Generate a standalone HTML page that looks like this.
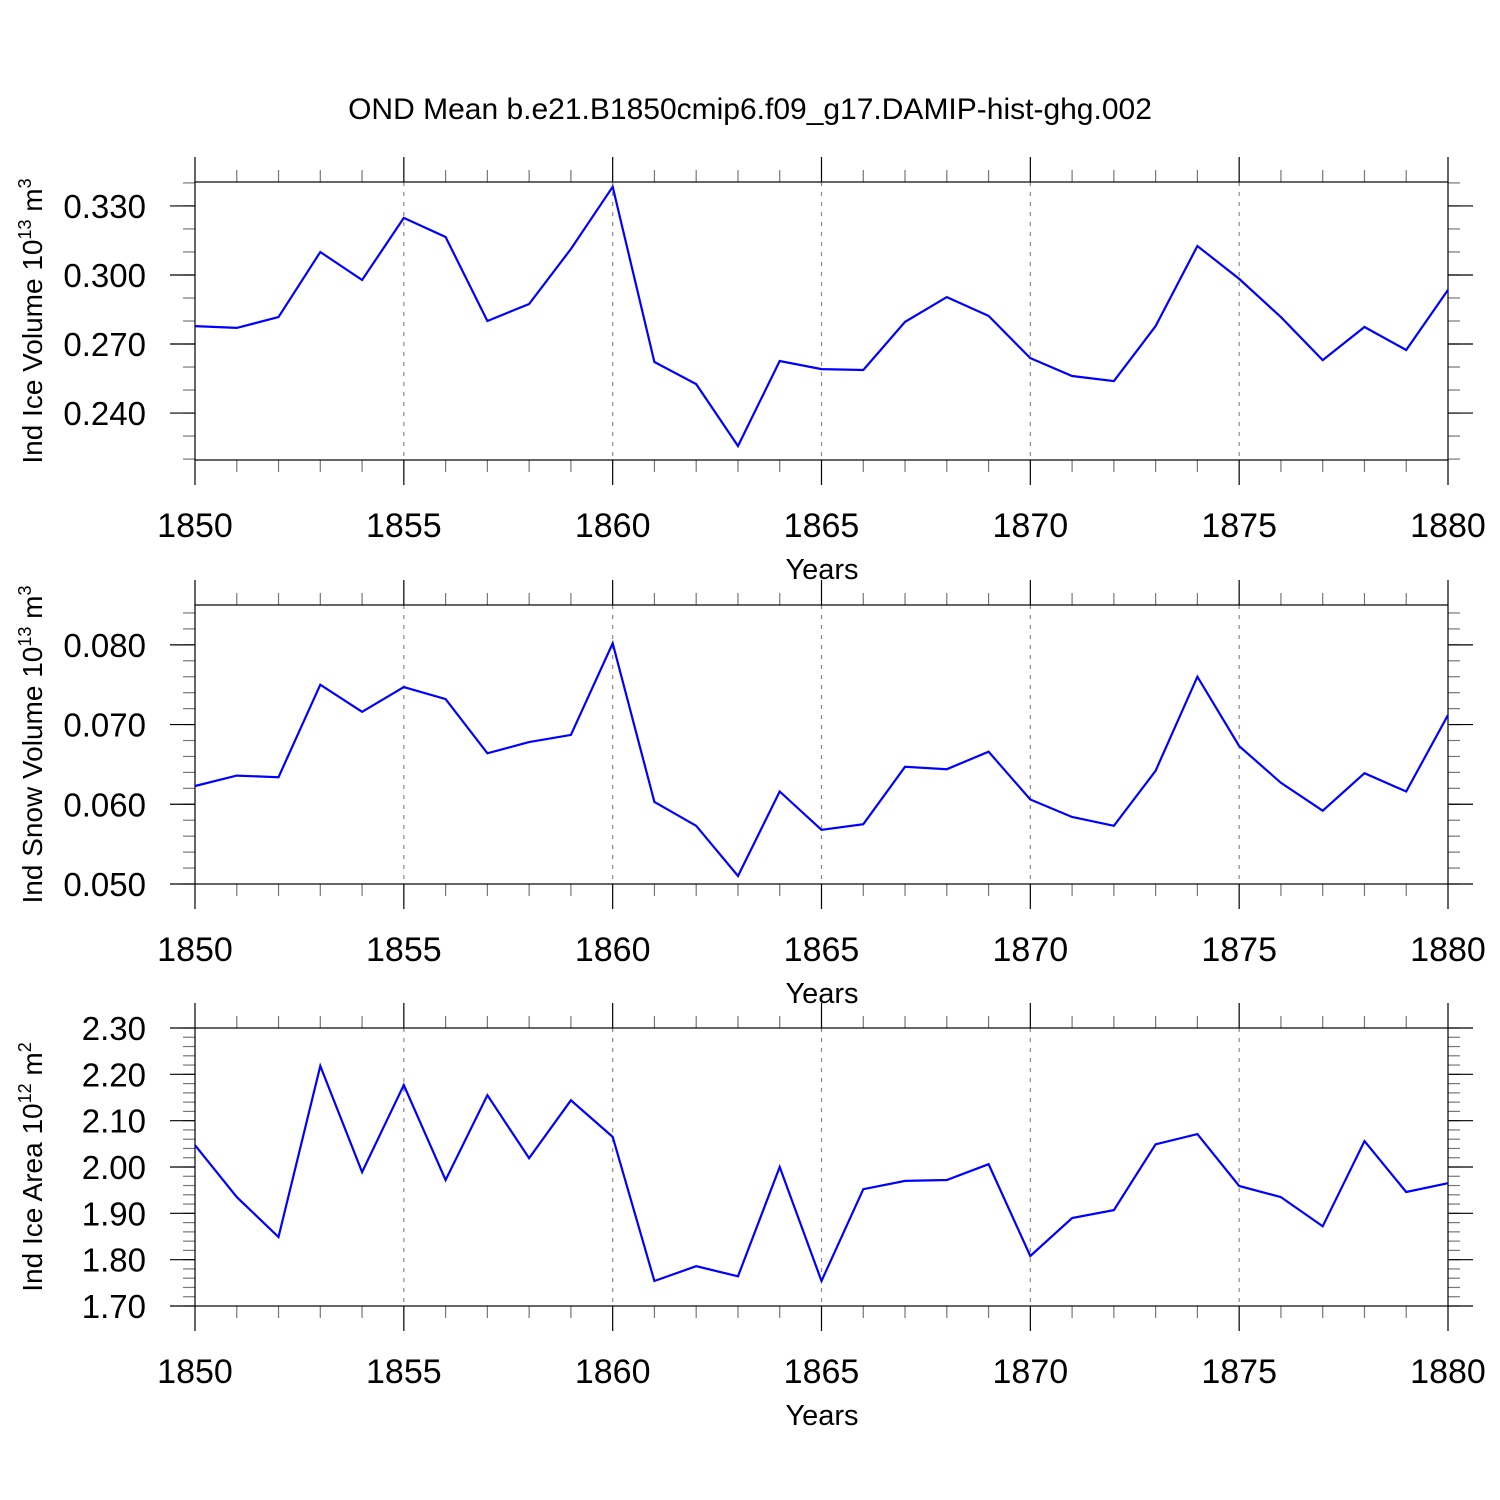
<!DOCTYPE html>
<html><head><meta charset="utf-8"><style>
html,body{margin:0;padding:0;background:#fff;}
svg{display:block;font-family:"Liberation Sans",sans-serif;}
</style></head><body>
<svg id="chart" width="1500" height="1500" viewBox="0 0 1500 1500" xmlns="http://www.w3.org/2000/svg">
<rect width="1500" height="1500" fill="#fff"/>
<text x="750" y="119" font-size="30" text-anchor="middle">OND Mean b.e21.B1850cmip6.f09_g17.DAMIP-hist-ghg.002</text>
</svg>
<script>
const years = [1850,1851,1852,1853,1854,1855,1856,1857,1858,1859,1860,1861,1862,1863,1864,1865,1866,1867,1868,1869,1870,1871,1872,1873,1874,1875,1876,1877,1878,1879,1880];
const iceVolume = [0.2778,0.2770,0.2817,0.3100,0.2978,0.3248,0.3165,0.2800,0.2874,0.3113,0.3383,0.2622,0.2526,0.2257,0.2626,0.2591,0.2587,0.2796,0.2904,0.2822,0.2639,0.2561,0.2539,0.2778,0.3126,0.2983,0.2817,0.2630,0.2774,0.2674,0.2935];
const snowVolume = [0.0623,0.0636,0.0634,0.0750,0.0716,0.0747,0.0732,0.0664,0.0678,0.0687,0.0802,0.0603,0.0573,0.0510,0.0616,0.0568,0.0575,0.0647,0.0644,0.0666,0.0606,0.0584,0.0573,0.0642,0.0760,0.0673,0.0627,0.0592,0.0639,0.0616,0.0712];
const iceArea = [2.047,1.935,1.849,2.218,1.989,2.177,1.972,2.155,2.019,2.144,2.065,1.754,1.786,1.764,2.000,1.754,1.952,1.970,1.972,2.006,1.808,1.890,1.907,2.049,2.071,1.959,1.935,1.872,2.056,1.946,1.965];
const xTickLabels = ["1850","1855","1860","1865","1870","1875","1880"];
const iceVolTicks = ["0.240","0.270","0.300","0.330"];
const snowVolTicks = ["0.050","0.060","0.070","0.080"];
const iceAreaTicks = ["1.70","1.80","1.90","2.00","2.10","2.20","2.30"];

const NS="http://www.w3.org/2000/svg";
const svg=document.getElementById('chart');
const X0=195,X1=1448;
function xScale(yr){return X0+(yr-1850)/30*(X1-X0);}
function mk(tag,attrs,parent){const e=document.createElementNS(NS,tag);for(const k in attrs)e.setAttribute(k,attrs[k]);(parent||svg).appendChild(e);return e;}

const panels=[
 {name:'ice-volume',top:182,bot:460,min:0.2196,max:0.3404,ticks:iceVolTicks,minorStep:0.01,data:iceVolume,title:'Ind Ice Volume 10',sup:'13',unit:' m',usup:'3'},
 {name:'snow-volume',top:605,bot:884,min:0.050,max:0.085,ticks:snowVolTicks,minorStep:0.002,data:snowVolume,title:'Ind Snow Volume 10',sup:'13',unit:' m',usup:'3'},
 {name:'ice-area',top:1028,bot:1306,min:1.70,max:2.30,ticks:iceAreaTicks,minorStep:0.02,data:iceArea,title:'Ind Ice Area 10',sup:'12',unit:' m',usup:'2'}
];
panels.forEach(p=>{
 const g=mk('g',{});
 
 
 const ys=v=>p.bot-(v-p.min)/(p.max-p.min)*(p.bot-p.top);
 for(let yr=1855;yr<1880;yr+=5){
  const l=mk('line',{x1:xScale(yr),x2:xScale(yr),y1:p.top,y2:p.bot,stroke:'#888','stroke-width':1.2,'stroke-dasharray':'4,6'},g);
  
  
 }
 for(let yr=1850;yr<=1880;yr++){
  const x=xScale(yr),maj=(yr%5===0),len=maj?25:12;
  const col=maj?'#000':'#777';
  mk('line',{x1:x,x2:x,y1:p.top,y2:p.top-len,stroke:col,'stroke-width':1.2},g);
  mk('line',{x1:x,x2:x,y1:p.bot,y2:p.bot+len,stroke:col,'stroke-width':1.2},g);
 }
 xTickLabels.forEach(t=>{
  const e=mk('text',{x:xScale(+t),y:p.bot+77,'font-size':34,'text-anchor':'middle'},g);e.textContent=t;
  
  
 });
 const xt=mk('text',{x:822,y:p.bot+119,'font-size':29,'text-anchor':'middle'},g);xt.textContent='Years';
 
 
 const start=Math.ceil(p.min/p.minorStep-1e-6);
 for(let i=start;i*p.minorStep<=p.max+1e-9;i++){
  const y=ys(i*p.minorStep);
  mk('line',{x1:X0,x2:X0-12,y1:y,y2:y,stroke:'#777','stroke-width':1.2},g);
  mk('line',{x1:X1,x2:X1+12,y1:y,y2:y,stroke:'#777','stroke-width':1.2},g);
 }
 p.ticks.forEach(t=>{
  const y=ys(+t);
  mk('line',{x1:X0,x2:X0-25,y1:y,y2:y,stroke:'#000','stroke-width':1.2},g);
  mk('line',{x1:X1,x2:X1+25,y1:y,y2:y,stroke:'#000','stroke-width':1.2},g);
  const e=mk('text',{x:146,y:y+12,'font-size':33,'text-anchor':'end'},g);e.textContent=t;
  
  
 });
 const fr=mk('rect',{x:X0,y:p.top,width:X1-X0,height:p.bot-p.top,fill:'none',stroke:'#000','stroke-width':1.2},g);
 
 
 const pts=p.data.map((v,i)=>xScale(years[i]).toFixed(1)+','+ys(v).toFixed(1)).join(' ');
 const pl=mk('polyline',{points:pts,fill:'none',stroke:'#0000ff','stroke-width':2.2},g);
 
 
 const cy=(p.top+p.bot)/2;
 const yt=mk('text',{x:0,y:0,'font-size':28,'text-anchor':'middle',transform:`translate(42,${cy}) rotate(-90)`},g);
 
 
 yt.appendChild(document.createTextNode(p.title));
 let s=mk('tspan',{'font-size':18,dy:-11},yt);s.textContent=p.sup;
 s=mk('tspan',{dy:11},yt);s.textContent=p.unit;
 s=mk('tspan',{'font-size':18,dy:-11},yt);s.textContent=p.usup;
});
</script>
</body></html>
